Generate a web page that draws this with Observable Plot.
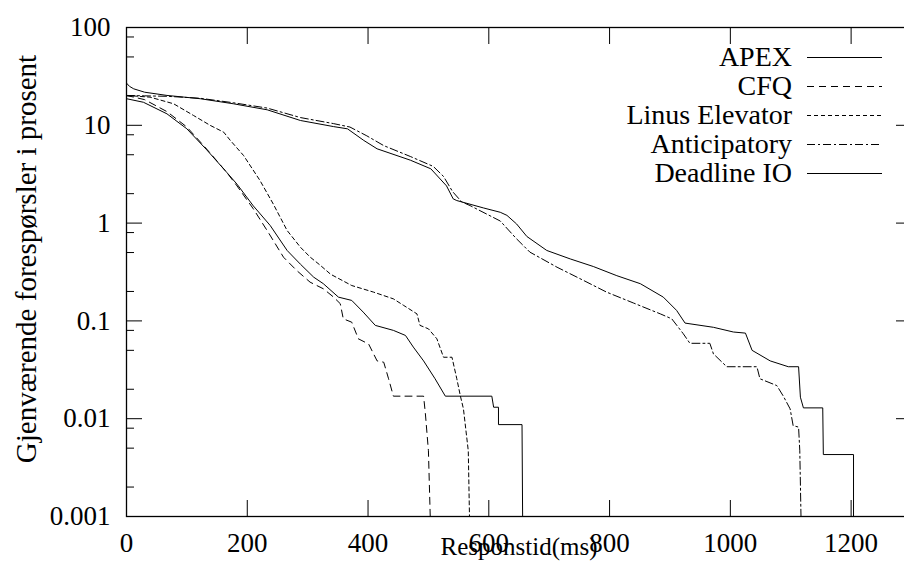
<!DOCTYPE html>
<html>
<head>
<meta charset="utf-8">
<script src="https://cdn.jsdelivr.net/npm/d3@7"></script>
<script src="https://cdn.jsdelivr.net/npm/@observablehq/plot@0.6"></script>
<style>
  body { margin: 0; background: #fff; }
  #chart svg { display: block; }
</style>
</head>
<body>
<div id="chart"></div>
<script>
// Remaining requests (%) as a function of response time (ms), per I/O scheduler.
const seriesNames = ["APEX", "CFQ", "Linus Elevator", "Anticipatory", "Deadline IO"];
const seriesDash = [null, "7,5", "4,3", "8,3,2,3", null];

const apexMs  = [0, 28, 67, 100, 133, 166, 183, 210, 238, 266, 288, 310, 326, 351, 373, 392, 412, 442, 462, 475, 492, 511, 528, 605, 608, 616, 616, 655, 656];
const apexPct = [18.7, 17.2, 13.1, 9.2, 5.6, 3.3, 2.5, 1.5, 0.945, 0.525, 0.38, 0.28, 0.24, 0.175, 0.162, 0.123, 0.09, 0.08, 0.071, 0.054, 0.039, 0.0256, 0.017, 0.017, 0.0131, 0.0131, 0.0087, 0.0087, 0.001];

const cfqMs  = [0, 30, 67, 100, 133, 166, 183, 210, 235, 260, 282, 304, 326, 343, 354, 359, 373, 384, 401, 415, 426, 434, 442, 492, 495, 500, 503];
const cfqPct = [20.2, 18.3, 13.8, 9.6, 5.7, 3.3, 2.4, 1.4, 0.8, 0.448, 0.327, 0.249, 0.213, 0.175, 0.15, 0.105, 0.097, 0.0656, 0.058, 0.039, 0.0378, 0.0256, 0.017, 0.017, 0.0112, 0.0047, 0.001];

const linusMs  = [0, 39, 78, 111, 139, 161, 172, 194, 221, 243, 266, 288, 304, 321, 338, 373, 409, 442, 459, 481, 486, 500, 514, 525, 539, 547, 553, 558, 566, 568];
const linusPct = [20.2, 19.4, 16.6, 12.6, 9.95, 8.5, 7.0, 4.9, 2.73, 1.57, 0.84, 0.567, 0.45, 0.37, 0.3, 0.23, 0.197, 0.168, 0.144, 0.118, 0.09, 0.083, 0.0656, 0.0425, 0.0425, 0.0256, 0.017, 0.0126, 0.0047, 0.001];

const anticMs  = [0, 30, 67, 122, 177, 233, 288, 343, 370, 398, 426, 470, 508, 525, 540, 555, 569, 619, 646, 668, 713, 757, 795, 840, 884, 903, 922, 933, 966, 972, 994, 1044, 1049, 1077, 1088, 1099, 1104, 1113, 1115, 1117];
const anticPct = [20.2, 20.0, 19.8, 18.9, 17.0, 15.0, 12.0, 10.4, 9.6, 7.8, 6.2, 4.8, 3.8, 3.0, 2.1, 1.65, 1.51, 1.05, 0.69, 0.505, 0.354, 0.259, 0.197, 0.152, 0.118, 0.105, 0.074, 0.059, 0.059, 0.046, 0.034, 0.034, 0.0256, 0.0218, 0.0169, 0.0126, 0.0085, 0.0082, 0.0047, 0.001];

const deadlineMs  = [0, 5, 12, 30, 67, 122, 177, 233, 288, 343, 366, 393, 415, 470, 504, 530, 541, 547, 591, 619, 630, 646, 663, 696, 735, 773, 812, 851, 889, 911, 925, 972, 1005, 1025, 1036, 1066, 1096, 1113, 1116, 1121, 1153, 1154, 1204, 1204];
const deadlinePct = [27, 25, 23.6, 21.8, 20.2, 18.7, 16.6, 14.4, 11.2, 9.7, 9.2, 7.0, 5.75, 4.4, 3.59, 2.4, 1.77, 1.70, 1.43, 1.29, 1.2, 0.98, 0.73, 0.525, 0.43, 0.36, 0.29, 0.24, 0.175, 0.128, 0.095, 0.086, 0.077, 0.075, 0.05, 0.039, 0.034, 0.034, 0.0166, 0.0129, 0.0129, 0.0043, 0.0043, 0.001];

const seriesMs  = [apexMs, cfqMs, linusMs, anticMs, deadlineMs];
const seriesPct = [apexPct, cfqPct, linusPct, anticPct, deadlinePct];

// Axis ticks
const xTicks = [0, 200, 400, 600, 800, 1000, 1200];
const yMajor = [0.001, 0.01, 0.1, 1, 10, 100];
const yMinor = [0.002, 0.005, 0.008, 0.02, 0.05, 0.08, 0.2, 0.5, 0.8, 2, 5, 8, 20, 50, 80];

const xLabel = "Responstid(ms)";
const yLabel = "Gjenværende forespørsler i prosent";

const serif = "Liberation Serif";

const seriesRows = seriesNames.map((name, i) =>
  seriesMs[i].map((ms, j) => ({name, ms, pct: seriesPct[i][j]}))
);

// Key drawn inside the upper right of the frame
function key(index, scales, values, dims) {
  const g = d3.create("svg:g").attr("font-family", serif).attr("font-size", 28);
  const right = dims.width - dims.marginRight;
  seriesNames.forEach((name, i) => {
    const y = dims.marginTop + 30.5 + 29 * i;
    g.append("text")
      .attr("x", right - 119).attr("y", y).attr("dy", "0.32em")
      .attr("text-anchor", "end").attr("fill", "#000")
      .text(name);
    g.append("line")
      .attr("x1", right - 104).attr("x2", right - 29)
      .attr("y1", y).attr("y2", y)
      .attr("stroke", "#000").attr("stroke-width", 1)
      .attr("stroke-dasharray", seriesDash[i]);
  });
  return g.node();
}

const chart = Plot.plot({
  width: 904,
  height: 572,
  marginLeft: 126,
  marginRight: -7,
  marginTop: 27,
  marginBottom: 56,
  style: {fontFamily: serif, fontSize: "27px", color: "#000", background: "#fff"},
  x: {domain: [0, 1300]},
  y: {type: "log", domain: [0.001, 100]},
  marks: [
    // inward ticks on all sides
    Plot.axisY(yMajor, {anchor: "left", tickSize: -16, tickPadding: 32, tickFormat: d => String(d), label: null, fontSize: 27, fontFamily: serif}),
    Plot.axisY(yMinor, {anchor: "left", tickSize: -8, tickFormat: () => "", label: null}),
    Plot.axisY(yMajor, {anchor: "right", tickSize: -16, tickFormat: () => "", label: null}),
    Plot.axisY(yMinor, {anchor: "right", tickSize: -8, tickFormat: () => "", label: null}),
    Plot.axisX(xTicks, {anchor: "bottom", tickSize: -16, tickPadding: 32, tickFormat: d => String(d), label: null, fontSize: 27, fontFamily: serif}),
    Plot.axisX(xTicks, {anchor: "top", tickSize: -16, tickFormat: () => "", label: null}),
    ...seriesRows.map((rows, i) =>
      Plot.line(rows, {x: "ms", y: "pct", stroke: "#000", strokeWidth: 1, strokeDasharray: seriesDash[i], clip: true})
    ),
    Plot.frame({stroke: "#000", strokeWidth: 1.3}),
    Plot.text([xLabel], {text: d => d, frameAnchor: "bottom", dy: 38, fontSize: 25, fontFamily: serif, fill: "#000"}),
    Plot.text([yLabel], {text: d => d, frameAnchor: "left", textAnchor: "middle", dx: -100, dy: -13, rotate: -90, fontSize: 29, fontFamily: serif, fill: "#000"}),
    key
  ]
});

document.getElementById("chart").append(chart);
</script>
</body>
</html>
